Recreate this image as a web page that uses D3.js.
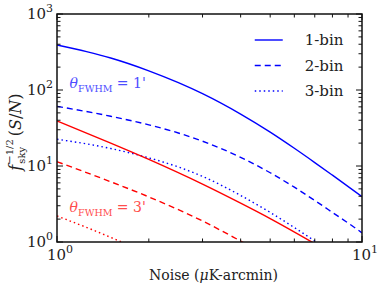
<!DOCTYPE html>
<html>
<head>
<meta charset="utf-8">
<script src="https://cdn.jsdelivr.net/npm/d3@7"></script>
<style>
  body { margin: 0; background: #fff; }
  svg text { font-family: "DejaVu Serif", serif; fill: #222; }
</style>
</head>
<body>
<svg id="chart" width="382" height="286"></svg>
<script>
// noise values (uK-arcmin) and S/N curves
var noise1bin = [1, 1.25, 1.5, 2, 2.5, 3, 4, 5, 6, 7, 8, 10];
var blue1bin  = [391, 320, 264, 179, 125, 89.5, 48.2, 27.9, 17.1, 11.1, 7.57, 3.96];
var noise2bin = [1, 1.5, 2, 2.5, 3, 4, 5, 6, 7, 8, 9.5, 10];
var blue2bin  = [61, 45.1, 34.8, 27.2, 21.2, 13.0, 8.15, 5.26, 3.52, 2.45, 1.53, 1.32];
var noise3bin = [1, 1.5, 2, 2.5, 3, 4, 5, 6, 7, 7.5];
var blue3bin  = [22.5, 17.0, 12.8, 9.7, 7.3, 4.1, 2.45, 1.55, 1.03, 0.85];
var noiseRed1 = [1, 1.5, 2, 3, 4, 5, 7];
var red1bin   = [39.1, 20.0, 12.2, 5.77, 3.24, 2.03, 0.95];
var noiseRed2 = [1, 1.5, 2, 3, 4, 4.47];
var red2bin   = [11.4, 6.2, 3.92, 1.89, 1.03, 0.81];
var noiseRed3 = [1, 1.3, 1.63, 1.8];
var red3bin   = [2.2, 1.46, 1.0, 0.85];

var legendLabels = ["1-bin", "2-bin", "3-bin"];
var dashes = ["none", "6,4", "1.5,3"];

var svg = d3.select("#chart");
var margin = {top: 14, right: 20, bottom: 44, left: 57};
var width = 382 - margin.left - margin.right,
    height = 286 - margin.top - margin.bottom;

var x = d3.scaleLog().domain([1, 10]).range([0, width]);
var y = d3.scaleLog().domain([1, 1000]).range([height, 0]);

var g = svg.append("g").attr("transform", "translate(" + margin.left + "," + margin.top + ")");

g.append("clipPath").attr("id", "clip")
  .append("rect").attr("width", width).attr("height", height);

var line = d3.line()
  .x(function(d) { return x(d[0]); })
  .y(function(d) { return y(d[1]); })
  .curve(d3.curveMonotoneX);

var series = [
  {xs: noise1bin, ys: blue1bin, color: "#0000ff", dash: dashes[0]},
  {xs: noise2bin, ys: blue2bin, color: "#0000ff", dash: dashes[1]},
  {xs: noise3bin, ys: blue3bin, color: "#0000ff", dash: dashes[2]},
  {xs: noiseRed1, ys: red1bin, color: "#ff0000", dash: dashes[0]},
  {xs: noiseRed2, ys: red2bin, color: "#ff0000", dash: dashes[1]},
  {xs: noiseRed3, ys: red3bin, color: "#ff0000", dash: dashes[2]}
];

g.append("g").attr("clip-path", "url(#clip)")
  .selectAll("path").data(series).enter().append("path")
  .attr("d", function(s) { return line(d3.zip(s.xs, s.ys)); })
  .attr("fill", "none")
  .attr("stroke", function(s) { return s.color; })
  .attr("stroke-width", 1.4)
  .attr("stroke-dasharray", function(s) { return s.dash; });

// ticks on all four sides, pointing inward
var xMajor = [1, 10];
var xMinor = d3.range(2, 10);
var yMajor = [1, 10, 100, 1000];
var yMinor = [];
[1, 10, 100].forEach(function(b) { for (var k = 2; k < 10; k++) yMinor.push(b * k); });

var ticks = g.append("g").attr("stroke", "#111").attr("stroke-width", 1);
function vt(list, len) {
  list.forEach(function(v) {
    ticks.append("line").attr("x1", x(v)).attr("x2", x(v)).attr("y1", height).attr("y2", height - len);
    ticks.append("line").attr("x1", x(v)).attr("x2", x(v)).attr("y1", 0).attr("y2", len);
  });
}
function ht(list, len) {
  list.forEach(function(v) {
    ticks.append("line").attr("y1", y(v)).attr("y2", y(v)).attr("x1", 0).attr("x2", len);
    ticks.append("line").attr("y1", y(v)).attr("y2", y(v)).attr("x1", width).attr("x2", width - len);
  });
}
vt(xMajor, 6); vt(xMinor, 3.5);
ht(yMajor, 6); ht(yMinor, 3.5);

g.append("rect").attr("width", width).attr("height", height)
  .attr("fill", "none").attr("stroke", "#111").attr("stroke-width", 1.5);

// tick labels 10^n
var yExp = [0, 1, 2, 3];
yExp.forEach(function(e) {
  var t = g.append("text").attr("x", -4).attr("y", y(Math.pow(10, e)) + 5)
    .attr("text-anchor", "end").style("font-size", "15px");
  t.append("tspan").text("10");
  t.append("tspan").attr("dy", -7).style("font-size", "11px").text(e);
});
var xExp = [0, 1];
xExp.forEach(function(e) {
  var t = g.append("text").attr("x", x(Math.pow(10, e)) + 3).attr("y", height + 18)
    .attr("text-anchor", "middle").style("font-size", "15px");
  t.append("tspan").text("10");
  t.append("tspan").attr("dy", -7).style("font-size", "11px").text(e);
});

// axis titles
g.append("text").attr("x", width / 2 + 4).attr("y", height + 38)
  .attr("text-anchor", "middle").style("font-size", "14px")
  .html('Noise (<tspan font-style="italic">μ</tspan>K-arcmin)');

var yl = svg.append("text").attr("transform", "translate(21," + (margin.top + height / 2 + 4) + ") rotate(-90)")
  .attr("text-anchor", "middle").style("font-size", "16px");
yl.append("tspan").style("font-style", "italic").text("f");
var sky = yl.append("tspan").attr("dy", 4).attr("dx", 1).style("font-size", "10px").text("sky");
var skyW = sky.node().getComputedTextLength();
yl.append("tspan").attr("dy", -12).attr("dx", -skyW).style("font-size", "10px").text("−1/2");
yl.append("tspan").attr("dy", 8).attr("dx", 3).text("(");
yl.append("tspan").style("font-style", "italic").text("S");
yl.append("tspan").text("/");
yl.append("tspan").style("font-style", "italic").text("N");
yl.append("tspan").text(")");

// FWHM annotations
function fwhm(px, py, color, val) {
  var t = g.append("text").attr("x", px).attr("y", py).style("font-size", "14px").style("fill", color);
  t.append("tspan").style("font-style", "italic").text("θ");
  t.append("tspan").attr("dy", 4).style("font-size", "9.5px").text("FWHM");
  t.append("tspan").attr("dy", -4).text(" = " + val + "'");
}
fwhm(x(1.1), y(106), "#4d4dff", 1);
fwhm(x(1.1), y(2.48), "#ff4d4d", 3);

// legend
var leg = g.append("g").attr("transform", "translate(" + x(4.45) + ",26)");
legendLabels.forEach(function(lbl, i) {
  leg.append("line").attr("x1", 0).attr("x2", 28).attr("y1", i * 25.5).attr("y2", i * 25.5)
    .attr("stroke", "#0000ff").attr("stroke-width", 1.4).attr("stroke-dasharray", dashes[i]);
  leg.append("text").attr("x", 50).attr("y", i * 25.5 + 5).style("font-size", "15px").text(lbl);
});
</script>
</body>
</html>
